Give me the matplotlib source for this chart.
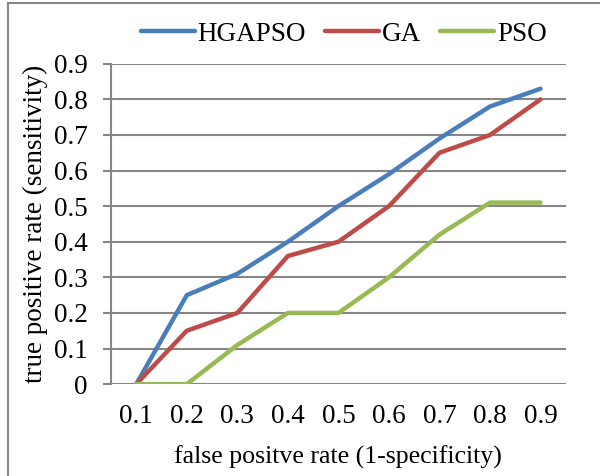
import matplotlib.pyplot as plt
from matplotlib.lines import Line2D

plt.rcParams["font.family"] = ["Liberation Serif", "DejaVu Serif"]

fpr_labels = ["0.1", "0.2", "0.3", "0.4", "0.5", "0.6", "0.7", "0.8", "0.9"]
hgapso = [0, 0.25, 0.31, 0.40, 0.50, 0.59, 0.69, 0.78, 0.83]
ga = [0, 0.15, 0.20, 0.36, 0.40, 0.50, 0.65, 0.70, 0.80]
pso = [0, 0, 0.11, 0.20, 0.20, 0.30, 0.42, 0.51, 0.51]
y_ticks = [0, 0.1, 0.2, 0.3, 0.4, 0.5, 0.6, 0.7, 0.8, 0.9]
y_tick_labels = ["0", "0.1", "0.2", "0.3", "0.4", "0.5", "0.6", "0.7", "0.8", "0.9"]


def main():
    fig = plt.figure(figsize=(6, 4.76), dpi=100)
    ax = fig.add_axes([0.185, 0.193, 0.758, 0.673])
    fs = 19.5

    grid_color = "#868686"
    for t in y_ticks:
        ax.axhline(t, color=grid_color, lw=1.5, zorder=1)

    ax.plot(fpr_labels, hgapso, color="#4A7EBB", lw=3.2, label="HGAPSO",
            solid_capstyle="round", solid_joinstyle="round", zorder=3)
    ax.plot(fpr_labels, ga, color="#BE4B48", lw=3.2, label="GA",
            solid_capstyle="round", solid_joinstyle="round", zorder=3)
    ax.plot(fpr_labels, pso, color="#98B954", lw=3.2, label="PSO",
            solid_capstyle="round", solid_joinstyle="round", zorder=3)

    ax.set_xlim(-0.5, len(fpr_labels) - 0.5)
    ax.set_ylim(0, 0.9)
    ax.set_yticks(y_ticks)
    ax.set_yticklabels(y_tick_labels)

    for side in ["top", "right", "bottom"]:
        ax.spines[side].set_visible(False)
    ax.spines["left"].set_color(grid_color)
    ax.spines["left"].set_linewidth(1.5)
    ax.tick_params(axis="y", length=6, width=1.5, color=grid_color,
                   pad=11, labelsize=fs)
    ax.tick_params(axis="x", length=0, pad=14, labelsize=fs)

    ax.set_xlabel("false positve rate (1-specificity)", fontsize=18.6, labelpad=12)
    ax.set_ylabel("true positive rate (sensitivity)", fontsize=fs, labelpad=4)

    ax.legend(loc="center", bbox_to_anchor=(0.573, 0.928), bbox_transform=fig.transFigure,
              ncol=3, frameon=False, fontsize=fs, handlelength=2.0,
              handletextpad=0.1, columnspacing=0.7)

    fig.add_artist(Line2D([8 / 600, 8 / 600], [0, 1 - 3 / 476],
                          transform=fig.transFigure, color=grid_color, lw=1.5))
    fig.add_artist(Line2D([8 / 600, 1], [1 - 3 / 476, 1 - 3 / 476],
                          transform=fig.transFigure, color=grid_color, lw=1.5))

    fig.savefig("out.png", dpi=100)


if __name__ == "__main__":
    main()
